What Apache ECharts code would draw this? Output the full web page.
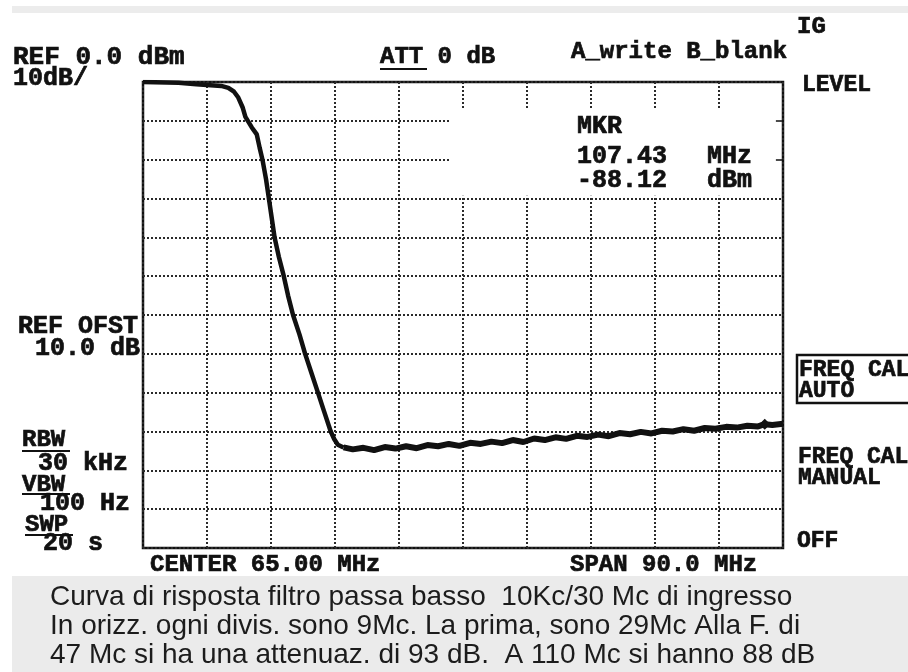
<!DOCTYPE html>
<html>
<head>
<meta charset="utf-8">
<script src="https://cdn.jsdelivr.net/npm/echarts@6/dist/echarts.min.js"></script>
<style>
html,body{margin:0;padding:0;background:#fff;}
#chart{width:908px;height:672px;}
</style>
</head>
<body>
<div id="chart"></div>
<script>
// ---- data (frequency in MHz, level in dBm) ----
const responseFreq = [20, 25, 27.5, 29, 31, 32, 32.8, 33.4, 34, 34.4, 35.3, 36.0, 36.4, 36.8, 37.3, 37.7, 38.1, 38.5, 39.1, 39.8, 40.4, 41.1, 42.0, 42.8, 43.7, 44.6, 45.5, 46.4, 46.9, 47.4, 48.2];
const responseDb   = [0, -0.2, -0.6, -0.8, -1.0, -1.5, -2.5, -4, -6.5, -9, -11.7, -13.5, -16.9, -20, -25, -30, -35, -40, -45, -50, -55, -60, -65, -70, -75, -80, -85, -90, -92, -93.4, -94.1];
const floorFreq = [48.2, 49.5, 51, 52.5, 54, 55.5, 57, 58.5, 60, 61.5, 63, 64.5, 66, 67.5, 69, 70.5, 72, 73.5, 75, 76.5, 78, 79.5, 81, 82.5, 84, 85.5, 87, 88.5, 90, 91.5, 93, 94.5, 96, 97.5, 99, 100.5, 102, 103.5, 105, 106.5, 107.43, 108.5, 110];
const floorDb   = [-94.1, -94.6, -94.2, -94.8, -94.0, -94.4, -93.8, -94.3, -93.5, -93.8, -93.2, -93.7, -92.9, -93.2, -92.6, -93.0, -92.2, -92.7, -91.8, -92.2, -91.5, -91.9, -91.1, -91.4, -90.8, -91.2, -90.4, -90.7, -90.1, -90.5, -89.8, -90.0, -89.4, -89.8, -89.1, -89.3, -88.8, -89.0, -88.5, -88.7, -88.12, -88.3, -88.0];
const markerFreq = 107.43;
const markerDb = -88.12;
const freqMin = 20, freqMax = 110;          // CENTER 65 MHz, SPAN 90 MHz
const levelMin = -120, levelMax = 0, levelStep = 10;
const divisions = 10;                       // horizontal divisions (9 MHz each)
const blankArea = [[63.1, -7.2], [109.7, -29.3]];   // grid blanked behind marker readout
const borderTicks = [-10, -20];

const pairs = (xs, ys) => xs.map((x, i) => [x, ys[i]]);

const chart = echarts.init(document.getElementById('chart'), null, {renderer: 'canvas'});
const mono = "'Liberation Mono', 'DejaVu Sans Mono', monospace";
const sans = "'Liberation Sans', Arial, sans-serif";
const T = (text, x, y, size) => ({
  type: 'text', x: x, y: y, z: 100,
  style: {text: text, font: 'bold ' + size + 'px ' + mono, fill: '#111', stroke: '#111', lineWidth: 0.7, verticalAlign: 'middle', align: 'left'}
});
const C = (text, y) => ({
  type: 'text', x: 50, y: y, z: 100,
  style: {text: text, font: '28px ' + sans, fill: '#1c1c1c', verticalAlign: 'middle', align: 'left'}
});
const U = (x1, x2, y) => ({type: 'line', z: 100, shape: {x1: x1, y1: y, x2: x2, y2: y}, style: {stroke: '#111', lineWidth: 2}});

const dotted = {type: [2, 2], width: 2, color: '#2a2a2a'};

chart.setOption({
  animation: false,
  backgroundColor: '#fff',
  grid: {left: 143, right: 125, top: 82, bottom: 124, show: true, borderColor: '#111', borderWidth: 2.5, backgroundColor: 'transparent'},
  xAxis: [
    {type: 'value', min: freqMin, max: freqMax, show: false},
    {type: 'value', min: 0, max: divisions, interval: 1, position: 'bottom',
     axisLine: {show: false}, axisTick: {show: false}, axisLabel: {show: false},
     splitLine: {show: true, lineStyle: dotted}}
  ],
  yAxis: {type: 'value', min: levelMin, max: levelMax, interval: levelStep,
    axisLine: {show: false}, axisTick: {show: false}, axisLabel: {show: false},
    splitLine: {show: true, lineStyle: dotted}},
  series: [
    {type: 'line', name: 'response', xAxisIndex: 0, data: pairs(responseFreq, responseDb),
     showSymbol: false, lineStyle: {color: '#111', width: 4.5}, z: 5,
     markArea: {silent: true, itemStyle: {color: '#fff', opacity: 1},
       data: [[{coord: blankArea[0]}, {coord: blankArea[1]}]]},
     markLine: {silent: true, symbol: 'none', label: {show: false},
       lineStyle: {color: '#111', width: 1.5, type: 'solid'},
       data: borderTicks.map(v => [{coord: [109, v]}, {coord: [freqMax, v]}])}
    },
    {type: 'line', name: 'floor', xAxisIndex: 0, data: pairs(floorFreq, floorDb),
     showSymbol: false, lineStyle: {color: '#111', width: 6}, z: 6,
     markPoint: {silent: true, symbol: 'diamond', symbolSize: 11, itemStyle: {color: '#111'}, label: {show: false},
       data: [{coord: [markerFreq, markerDb]}]}
    }
  ],
  graphic: [
    {type: 'rect', z: 90, shape: {x: 12, y: 6, width: 900, height: 7}, style: {fill: '#ececec'}},
    T('REF 0.0 dBm', 13, 57, 26),
    T('10dB/', 13, 79, 25),
    T('ATT 0 dB', 380, 57, 24),
    U(380, 427, 69),
    T('A_write B_blank', 571, 52, 24),
    T('IG', 797, 27, 24),
    T('LEVEL', 802, 85, 23),
    T('MKR', 577, 127, 25),
    T('107.43', 577, 157, 25),
    T('MHz', 707, 157, 25),
    T('-88.12', 577, 181, 25),
    T('dBm', 707, 181, 25),
    T('REF OFST', 18, 327, 25),
    T('10.0 dB', 35, 349, 25),
    T('RBW', 22, 440, 24), U(22, 70, 451),
    T('30 kHz', 38, 464, 25),
    T('VBW', 22, 485, 24), U(22, 70, 494),
    T('100 Hz', 40, 504, 25),
    T('SWP', 25, 525, 24), U(25, 73, 535),
    T('20 s', 43, 544, 25),
    {type: 'rect', z: 100, shape: {x: 797, y: 355, width: 130, height: 48}, style: {fill: 'none', stroke: '#111', lineWidth: 2.5}},
    T('FREQ CAL', 799, 370, 23),
    T('AUTO', 799, 391, 23),
    T('FREQ CAL', 798, 457, 23),
    T('MANUAL', 798, 478, 23),
    T('OFF', 797, 541, 23),
    T('CENTER 65.00 MHz', 150, 565, 24),
    T('SPAN 90.0 MHz', 570, 565, 24),
    {type: 'rect', z: 101, shape: {x: 12, y: 576, width: 900, height: 100}, style: {fill: '#ebebeb'}},
    Object.assign(C('Curva di risposta filtro passa basso  10Kc/30 Mc di ingresso', 597), {z: 102}),
    Object.assign(C('In orizz. ogni divis. sono 9Mc. La prima, sono 29Mc Alla F. di', 626), {z: 102}),
    Object.assign(C('47 Mc si ha una attenuaz. di 93 dB.  A 110 Mc si hanno 88 dB', 655), {z: 102})
  ]
});
</script>
</body>
</html>
